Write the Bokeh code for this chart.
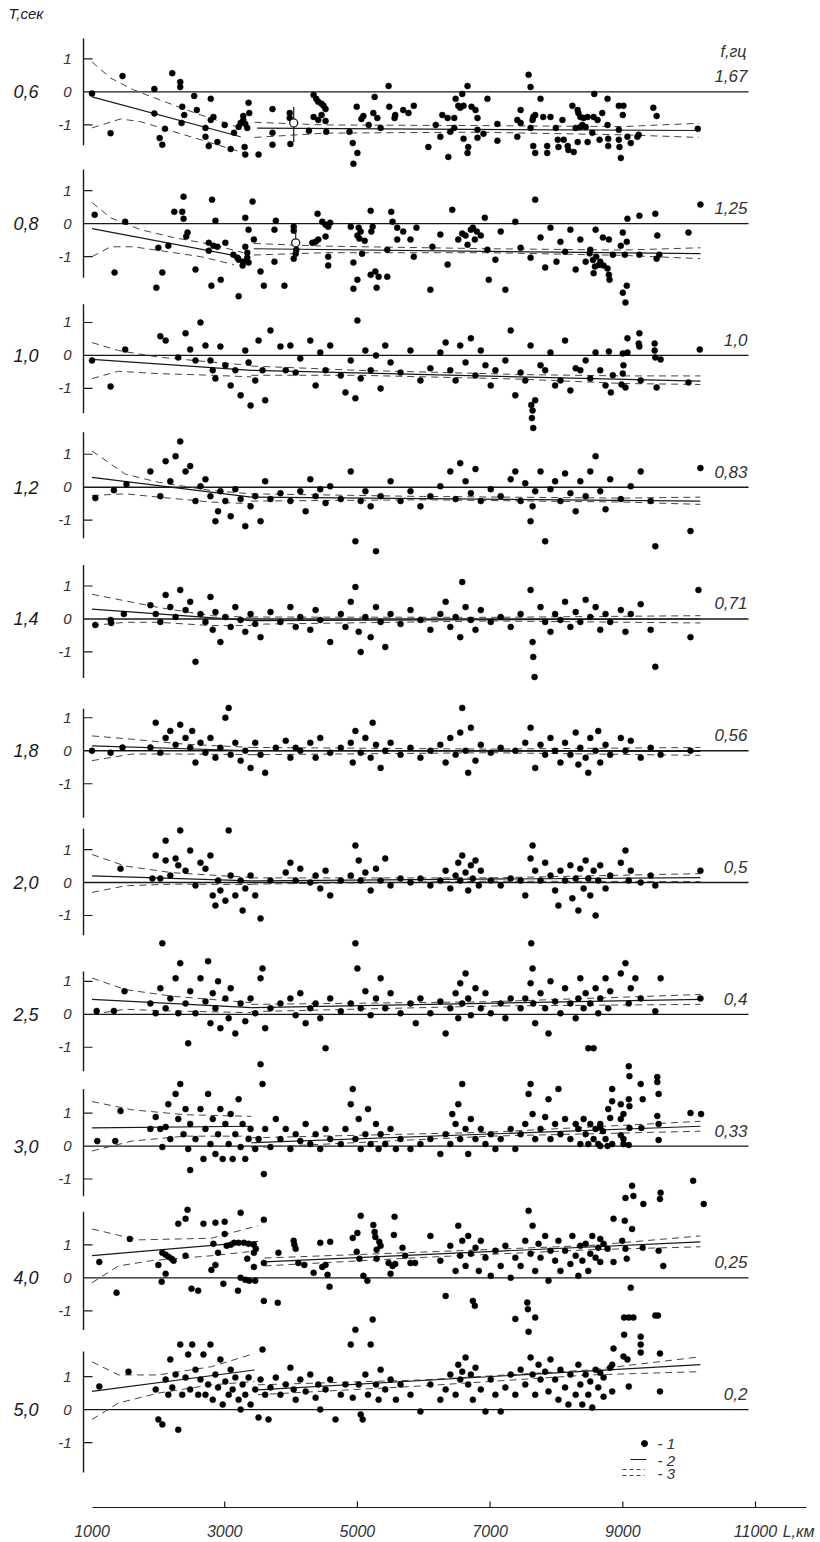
from bokeh.plotting import figure
from bokeh.models import Range1d, FixedTicker
from bokeh.embed import file_html
from bokeh.resources import INLINE

# ---------------- data ----------------
periods = ["0,6", "0,8", "1,0", "1,2", "1,4", "1,8", "2,0", "2,5", "3,0", "4,0", "5,0"]
freqs = ["1,67", "1,25", "1,0", "0,83", "0,71", "0,56", "0,5", "0,4", "0,33", "0,25", "0,2"]
axis_top = [1.62, 1.64, 1.55, 1.67, 1.64, 1.27, 1.64, 1.3, 1.73, 2.0, 1.76]
axis_bottom = [-1.62, -1.64, -1.75, -1.55, -1.79, -2.03, -1.6, -1.73, -1.52, -1.58, -1.91]
y_ticks = [1, 0, -1]
y_tick_labels = ["1", "0", "-1"]
dist_ticks = [1000, 3000, 5000, 7000, 9000, 11000]
dist_unit_pos = 11650
dist_unit = "L,км"

p1_pts = [(1000,-0.05),(1280,-1.25),(1460,0.48),(1940,0.09),(1940,-0.65),(2020,-1.4),(2060,-1.6),(2100,-1.12),(2210,0.57),(2330,0.3),
(2330,0.15),(2360,-0.45),(2390,-0.7),(2350,-0.94),(2540,-0.12),(2580,-0.55),(2710,-1.09),(2710,-1.36),(2760,-1.64),(2790,-0.21),
(2790,-0.85),(2830,-0.76),(2890,-1.52),(3000,-1.0),(3090,-1.73),(3140,-1.24),(3210,-1.06),(3240,-0.94),(3280,-0.85),(3310,-0.97),
(3280,-0.73),(3340,-1.09),(3360,-0.33),(3370,-0.64),(3300,-1.67),(3310,-1.9),(3510,-1.9),(3720,-0.52),(3720,-1.24),(3720,-1.6),
(3980,-0.79),(3980,-0.64),(3990,-1.58),(4270,-1.18),(4340,-0.09),(4380,-0.21),(4410,-0.3),(4460,-0.36),(4490,-0.42),(4520,-0.52),
(4460,-0.7),(4340,-0.76),(4410,-0.85),(4520,-0.88),(4530,-1.21),(4880,-1.21),(4930,-1.55),(4940,-2.18),(5000,-1.85),(4990,-0.45),
(5060,-0.82),(5090,-0.73),(5170,-1.0),(5240,-0.64),(5260,-0.15),(5300,-0.79),(5350,-1.09),(5470,0.18),(5480,-0.45),(5570,-0.7),
(5560,-0.79),(5690,-0.55),(5770,-0.64),(5850,-0.42),
(6070,-1.67),(6180,-1.0),(6250,-1.36),(6280,-0.7),(6360,-0.79),(6370,-1.97),(6400,-1.21),(6460,-0.79),(6480,-0.21),(6460,-1.09),
(6580,-0.06),(6520,-0.42),(6550,-0.48),(6600,-0.42),(6660,0.18),(6600,-1.42),(6670,-1.67),(6660,-1.85),(6720,-0.45),(6780,-0.55),
(6810,-0.79),(6810,-1.15),(6810,-1.39),(6900,-1.27),(6960,-0.21),(7110,-0.97),(7110,-1.48),
(7410,-0.85),(7410,-1.36),(7460,-0.55),(7460,-0.94),(7580,0.52),(7610,0.15),(7610,-1.09),(7640,-0.85),(7650,-0.76),(7650,-1.64),
(7680,-1.85),(7680,-0.70),(7760,-0.21),(7800,-0.76),(7860,-1.64),(7860,-1.85),(7910,-0.76),(7990,-1.09),(8020,-1.45),(8030,-1.67),
(8090,-0.85),(8110,-1.45),(8170,-1.64),(8180,-1.76),(8240,-0.42),(8260,-1.82),(8290,-1.09),(8320,-1.52),(8320,-0.55),(8330,-0.64),
(8360,-0.76),(8360,-1.06),(8390,-1.0),(8410,-0.79),(8440,-1.06),(8470,-0.76),(8470,-1.52),(8540,-1.24),(8560,-0.76),(8570,-0.06),
(8620,-0.85),(8650,-1.45),(8690,-0.64),(8770,-0.21),(8770,-1.0),(8780,-1.42),(8780,-1.64),(8940,-0.42),(8940,-1.15),(8940,-1.45),
(8950,-1.67),(8970,-2.0),(9000,-0.70),(9010,-0.42),(9070,-1.36),(9120,-1.55),(9220,-1.36),(9240,-1.3),(9460,-0.48),(9510,-0.73),
(10130,-1.12)]
p1_fit = [[(1000,-0.15),(3240,-1.36)], [(3490,-1.1),(10150,-1.17)]]
p1_hi = [[(1000,0.91),(1280,0.42),(1630,0.06),(2140,-0.33),(2640,-0.7),(3240,-1.09)],
         [(3450,-0.92),(4500,-1.0),(6800,-1.02),(9000,-1.05),(10150,-0.95)]]
p1_lo = [[(1000,-1.09),(1430,-0.82),(1730,-0.9),(2140,-1.15),(2640,-1.45),(3140,-1.76),(3310,-1.85)],
         [(3450,-1.38),(4500,-1.25),(6800,-1.22),(9000,-1.3),(10150,-1.38)]]

p2_pts = [(1040,0.27),(1340,-1.48),(1500,0.06),(1970,-1.94),(2000,-0.73),(2060,-1.48),(2150,-0.67),(2240,0.36),(2360,0.36),(2380,0.15),
(2380,0.82),(2420,-0.39),(2440,-0.27),(2560,-1.39),(2760,-0.82),(2800,-1.88),(2810,0.73),(2860,0.09),(2760,-0.58),(2830,-0.67),
(2890,-0.70),(2940,-1.7),(3010,-0.58),(3130,-0.94),(3190,-1.03),(3210,-1.09),(3270,-1.27),(3280,-1.15),(3310,-0.70),(3340,-0.88),
(3340,-1.03),(3360,-1.18),(3210,-2.2),(3310,0.18),(3360,-0.18),(3420,0.67),(3440,-0.48),(3540,-1.45),(3590,-1.88),(3770,0.09),
(3750,-0.18),(3750,-1.15),(3900,-1.88),(4040,-0.09),(4040,-0.21),(4080,-0.79),(4070,-0.91),(4040,-1.06),(4320,-0.58),(4370,-0.55),
(4410,-0.48),(4400,0.3),(4470,0.06),(4520,-0.03),(4590,0.03),(4560,-0.09),(4520,-0.39),(4560,-1.0),(4560,-1.27),(4900,-0.09),
(4940,-1.18),(4940,-1.97),(5020,-0.12),(5050,-0.24),(5000,-0.36),(5030,-0.45),(5000,-1.7),(5110,-0.52),(5070,-0.91),(5200,0.39),
(5210,-0.24),(5230,-0.09),(5200,-1.55),(5270,-1.45),(5320,-1.61),(5290,-1.94),(5450,-1.61),(5510,0.36),(5530,0.06),(5600,-0.12),
(5600,-0.48),(5690,-0.24),(5800,-0.48),(5890,-0.12),(5450,-0.79),(5850,-1.0),
(6130,-0.7),(6250,-0.33),(6360,-1.24),(6430,0.42),(6520,-0.48),(6580,-0.3),(6630,-0.36),(6660,-0.64),(6710,-0.18),(6740,-0.12),
(6770,-0.48),(6800,-0.24),(6860,-0.36),(6920,0.18),(6960,-0.79),(7080,-1.09),(7160,-0.24),(7230,-2.0),(6100,-2.0),(6980,-1.7),
(7380,0.06),(7460,-0.73),(7610,-1.03),(7680,0.73),(7760,-0.42),(7830,-1.33),(7910,-0.12),(8000,-1.15),(8060,-0.55),(8130,-0.85),
(8210,-0.18),(8290,-1.39),(8360,-0.48),(8440,-1.15),(8510,-0.79),(8590,-0.18),
(8500,-0.9),(8550,-1.1),(8580,-1.3),(8600,-1.0),(8640,-1.25),(8560,-1.5),
(10170,0.58),(9490,0.3),(9250,0.24),(9070,0.15),(8700,-0.42),(8790,-0.48),(9000,-0.27),(9060,-0.55),(9520,-0.36),(9990,-0.27),
(8970,-0.67),(8850,-0.94),(9030,-0.94),(9250,-0.94),(9550,-0.94),(9510,-1.06),(8660,-1.15),(8710,-1.27),(8770,-1.36),(8790,-1.55),
(8800,-1.70),(9060,-1.88),(9000,-2.09),(9040,-2.39)]
p2_fit = [[(1000,-0.15),(3240,-1.0)], [(3440,-0.76),(10170,-0.91)]]
p2_hi = [[(1000,0.64),(1280,0.18),(1730,-0.18),(2230,-0.42),(2830,-0.64),(3280,-0.88)],
         [(3440,-0.6),(4500,-0.68),(7000,-0.76),(9000,-0.8),(10170,-0.73)]]
p2_lo = [[(1000,-1.0),(1280,-0.7),(1620,-0.7),(2140,-0.85),(2640,-1.0),(3140,-1.24)],
         [(3440,-0.95),(4500,-0.88),(7000,-0.88),(9000,-0.96),(10170,-1.06)]]

p3_pts = [(1000,-0.15),(1500,0.18),(1280,-0.94),(2030,0.58),(2110,0.45),(2300,-0.06),(2410,0.67),(2480,0.18),(2560,-0.15),(2635,1.0),
(2710,0.3),(2785,-0.15),(2820,-0.45),(2860,-0.7),(2935,0.27),(3010,-0.3),(3090,-0.91),(3160,-0.45),(3240,-1.21),(3310,0.15),
(3360,-0.21),(3390,-1.52),(3460,-0.76),(3510,0.45),(3570,-0.45),(3610,-1.36),(3690,0.76),(3840,0.27),(3920,-0.45),(3990,0.3),
(4070,-0.52),(4140,-0.09),(4290,0.45),(4370,-0.91),(4440,0.09),(4520,-0.45),(4590,0.3),(4750,-0.61),(4820,-1.12),(4900,-0.15),
(4970,-1.3),(5000,1.06),(5050,-0.7),(5120,0.15),(5200,-0.45),(5280,0.0),(5350,-1.0),(5420,0.3),(5500,-0.21),(5650,-0.52),
(5800,0.15),(5950,-0.76),(6100,-0.39),(6250,0.09),(6330,0.39),(6400,-0.45),(6480,-0.76),(6550,0.3),(6630,-0.21),(6710,0.52),
(6780,-0.61),(6860,0.15),(6930,-0.3),(7010,-0.91),(7080,-0.45),(7230,-0.15),(7310,0.76),(7380,-1.21),(7460,-0.52),(7530,-0.76),
(7610,0.3),(7640,-1.67),(7680,-1.36),(7620,-1.5),(7630,-1.9),(7650,-2.2),(7760,-0.3),(7830,-0.45),(7910,0.09),(7980,-0.91),(8060,-0.76),(8130,0.45),(8210,-1.06),
(8290,-0.39),(8360,-0.45),(8440,-0.15),(8510,-0.7),(8590,0.09),(8660,-0.45),(8740,-0.91),
(9070,0.52),(9250,0.67),(9240,0.36),(9250,0.27),(9480,0.36),(9480,0.15),(9490,-0.06),(9570,-0.12),(8790,0.12),(9000,0.06),
(9070,0.09),(9010,-0.3),(9000,-0.55),(8850,-0.6),(8980,-0.88),(9040,-0.97),(9270,-0.76),(9510,-0.97),(9990,-0.82),(8820,-1.12),(10160,0.18)]
p3_fit = [[(1000,-0.12),(3400,-0.45)], [(3400,-0.45),(10170,-0.78)]]
p3_hi = [[(1000,0.39),(1400,0.15),(2000,-0.05),(2800,-0.2),(3400,-0.3)],
         [(3400,-0.32),(5000,-0.45),(7500,-0.58),(9000,-0.62),(10170,-0.62)]]
p3_lo = [[(1000,-0.7),(1400,-0.48),(2000,-0.55),(2800,-0.6),(3400,-0.65)],
         [(3400,-0.6),(5000,-0.6),(7500,-0.72),(9000,-0.85),(10170,-0.88)]]

p4_pts = [(1050,-0.33),(1330,-0.09),(1520,0.09),(1880,0.48),(2030,-0.27),(2110,0.79),(2180,0.18),(2260,0.94),(2330,1.39),(2410,0.48),
(2480,0.64),(2560,-0.42),(2635,0.03),(2710,0.24),(2785,-0.27),(2860,-1.03),(2900,-0.73),(2935,-0.12),(3010,-0.42),(3090,-0.88),
(3160,-0.06),(3240,-0.36),(3310,-1.18),(3390,-0.58),(3460,-0.27),(3540,-1.03),(3610,0.18),(3690,-0.36),(3840,-0.18),(3990,-0.42),
(4140,-0.12),(4220,-0.73),(4290,0.24),(4370,-0.27),(4440,-0.06),(4520,-0.48),(4590,0.03),(4750,-0.36),(4900,0.48),(4970,-1.64),
(5050,-0.42),(5120,-0.12),(5200,-0.58),(5280,-1.94),(5350,-0.27),(5500,0.18),(5650,-0.42),(5800,-0.12),(5950,-0.58),(6100,-0.27),
(6250,0.03),(6400,0.48),(6480,-0.36),(6550,0.73),(6630,0.18),(6710,-0.18),(6780,0.55),(6860,-0.42),(7010,-0.06),(7160,-0.27),
(7310,0.24),(7380,0.48),(7460,-0.42),(7530,0.12),(7610,-1.03),(7640,-0.58),(7680,-0.12),(7760,0.48),(7830,-1.64),(7910,-0.06),
(7980,0.18),(8060,-0.42),(8130,0.42),(8210,-0.18),(8290,-0.73),(8360,0.18),(8440,-0.27),(8510,0.48),(8590,0.94),(8660,-0.12),
(8740,-0.67),(8810,0.24),(8970,-0.36),(9120,0.03),(9270,0.48),(9420,-0.42),(9490,-1.79),(10020,-1.33),(10170,0.58)]
p4_fit = [[(1000,0.3),(3400,-0.3)], [(3400,-0.3),(10170,-0.42)]]
p4_hi = [[(1000,1.1),(1500,0.4),(2000,0.15),(2800,-0.1),(3400,-0.2)],
         [(3400,-0.2),(6000,-0.28),(9000,-0.33),(10170,-0.3)]]
p4_lo = [[(1000,-0.25),(1500,-0.2),(2000,-0.3),(2800,-0.45),(3400,-0.5)],
         [(3400,-0.42),(6000,-0.38),(9000,-0.45),(10170,-0.52)]]

p5_pts = [(1050,-0.18),(1290,-0.12),(1480,0.15),(1280,-0.03),(1880,0.42),(1960,0.15),(2030,-0.09),(2110,0.73),(2180,0.36),(2260,0.06),
(2330,0.88),(2410,0.27),(2480,0.52),(2560,-1.3),(2635,0.15),(2710,-0.09),(2785,0.67),(2820,-0.33),(2860,0.21),(2935,-0.7),
(3010,0.06),(3090,-0.24),(3160,0.36),(3240,-0.03),(3310,-0.39),(3390,0.15),(3460,-0.15),(3540,-0.55),(3690,0.21),(3840,-0.09),
(3990,0.36),(4070,-0.24),(4140,0.06),(4290,-0.33),(4370,0.27),(4440,-0.03),(4590,-0.7),(4750,0.15),(4820,-0.24),(4900,0.52),
(4970,0.97),(5020,-0.39),(5050,-1.0),(5120,0.06),(5200,-0.55),(5280,0.36),(5350,-0.09),(5420,-0.85),(5500,0.15),(5650,-0.15),
(5800,0.27),(5950,-0.03),(6100,-0.33),(6250,0.15),(6330,0.52),(6400,-0.24),(6480,0.06),(6550,-0.55),(6580,1.12),(6630,0.36),
(6710,-0.03),(6780,-0.33),(6860,0.27),(7010,-0.09),(7160,0.06),(7310,-0.24),(7460,0.15),(7610,0.88),(7640,-0.7),(7650,-1.15),
(7670,-1.76),(7760,0.36),(7830,-0.09),(7910,-0.39),(7980,0.15),(8060,-0.03),(8130,0.52),(8210,-0.24),(8290,0.21),(8360,-0.09),
(8440,0.58),(8510,0.06),(8590,0.36),(8660,-0.33),(8740,0.15),(8810,-0.09),(8970,0.27),(9040,-0.39),(9120,0.15),(9270,0.45),
(9420,-0.33),(9490,-1.45),(10020,-0.55),(10140,0.88)]
p5_fit = [[(1000,0.3),(3400,-0.05)], [(3400,-0.05),(10170,0.0)]]
p5_hi = [[(1000,0.75),(1500,0.55),(2000,0.35),(2800,0.1),(3400,0.05)],
         [(3400,0.06),(7000,0.05),(10170,0.1)]]
p5_lo = [[(1000,-0.2),(1500,-0.1),(2000,-0.1),(2800,-0.2),(3400,-0.2)],
         [(3400,-0.16),(7000,-0.06),(10170,-0.12)]]

p6_pts = [(1000,0.0),(1280,-0.06),(1460,0.1),(1880,0.1),(1960,0.85),(2030,-0.06),(2110,0.39),(2180,0.6),(2260,0.18),(2330,0.79),
(2410,0.39),(2480,0.09),(2510,0.6),(2560,-0.36),(2635,0.24),(2710,-0.06),(2785,0.39),(2860,-0.21),(2935,0.09),(3010,1.0),
(3060,1.3),(3090,-0.12),(3160,0.24),(3240,-0.3),(3310,0.0),(3390,-0.52),(3460,0.24),(3540,-0.12),(3610,-0.67),(3770,0.09),
(3920,0.3),(3990,-0.21),(4070,0.09),(4140,0.0),(4290,0.24),(4370,-0.21),(4440,0.39),(4590,-0.06),(4750,0.09),(4900,0.24),
(4930,-0.36),(4970,0.6),(5050,-0.06),(5120,0.39),(5200,-0.21),(5230,0.85),(5280,0.18),(5350,-0.52),(5420,0.0),(5500,0.24),
(5650,-0.12),(5800,0.09),(5950,-0.21),(6100,0.0),(6250,0.18),(6330,-0.36),(6400,0.39),(6480,-0.12),(6550,0.55),(6580,1.3),
(6630,0.0),(6670,-0.67),(6710,0.7),(6780,-0.3),(6860,0.18),(7010,-0.06),(7160,0.09),(7380,0.0),(7530,0.24),(7610,0.7),
(7680,-0.52),(7760,0.18),(7830,-0.12),(7910,0.39),(7980,0.0),(8060,-0.36),(8130,0.24),(8210,-0.12),(8290,0.55),(8330,-0.42),
(8360,0.09),(8440,-0.21),(8480,-0.67),(8510,0.39),(8590,0.0),(8630,0.6),(8660,-0.36),(8740,0.18),(8810,-0.12),(8970,0.39),
(9040,0.0),(9120,0.3),(9270,-0.21),(9420,0.09),(9570,-0.12),(10020,0.0)]
p6_fit = [[(1000,0.15),(3400,0.0)], [(3400,0.0),(10170,-0.02)]]
p6_hi = [[(1000,0.45),(1600,0.35),(2400,0.2),(3400,0.1)], [(3400,0.1),(7000,0.05),(10170,0.1)]]
p6_lo = [[(1000,-0.3),(1600,-0.1),(2400,-0.1),(3400,-0.12)], [(3400,-0.12),(7000,-0.06),(10170,-0.14)]]

p7_pts = [(1430,0.42),(1910,0.12),(1960,0.82),(2030,0.12),(2110,0.67),(2180,0.21),(2110,1.27),(2260,0.73),(2300,0.52),(2330,1.58),
(2410,0.36),(2480,0.97),(2560,-0.09),(2635,0.6),(2710,0.42),(2785,0.82),(2820,-0.39),(2860,-0.7),(2900,0.06),(2935,-0.24),
(3010,-0.55),(3060,1.58),(3090,0.21),(3160,-0.39),(3240,0.06),(3270,-0.85),(3310,-0.18),(3390,0.21),(3460,-0.39),(3540,-1.09),
(3690,0.06),(3920,0.3),(3990,0.6),(4070,0.06),(4140,0.42),(4290,0.0),(4370,0.21),(4440,-0.18),(4520,0.36),(4590,-0.39),
(4750,0.06),(4900,0.21),(4970,1.12),(5020,0.67),(5050,0.06),(5120,0.3),(5200,-0.24),(5280,0.42),(5350,0.06),(5420,0.73),
(5500,-0.09),(5650,0.12),(5800,0.0),(5950,0.12),(6100,-0.09),(6250,0.06),(6330,0.36),(6400,-0.18),(6480,0.21),(6520,0.6),
(6550,0.06),(6580,0.82),(6630,0.3),(6670,-0.24),(6710,0.52),(6740,0.12),(6780,0.67),(6830,-0.09),(6860,0.36),(7010,0.06),
(7160,-0.09),(7310,0.12),(7460,0.06),(7530,-0.39),(7610,0.73),(7640,1.12),(7680,0.36),(7760,0.06),(7830,0.6),(7910,0.21),
(7980,-0.24),(8030,-0.7),(8060,0.36),(8130,0.06),(8210,0.52),(8240,-0.48),(8290,0.12),(8330,-0.85),(8360,0.42),(8410,-0.18),
(8440,0.67),(8480,0.12),(8510,-0.39),(8560,0.36),(8590,-1.0),(8630,0.06),(8660,0.52),(8740,-0.18),(8810,0.21),(8970,0.6),
(9040,0.97),(9090,0.06),(9120,0.36),(9270,0.0),(9420,0.21),(9490,-0.09),(10170,0.36)]
p7_fit = [[(1000,0.2),(3400,0.05)], [(3400,0.05),(10170,0.15)]]
p7_hi = [[(1000,0.85),(1500,0.5),(2200,0.3),(3400,0.15)], [(3400,0.14),(7000,0.14),(10170,0.27)]]
p7_lo = [[(1000,-0.3),(1500,-0.1),(2200,-0.05),(3400,-0.06)], [(3400,-0.05),(7000,0.04),(10170,0.03)]]

p8_pts = [(1070,0.1),(1330,0.1),(1490,0.7),(1880,0.33),(1960,0.03),(2030,0.79),(2060,2.15),(2110,0.18),(2180,0.48),(2260,1.09),
(2300,0.03),(2330,1.55),(2410,0.33),(2450,-0.88),(2480,0.7),(2560,0.03),(2635,1.09),(2710,0.39),(2750,1.61),(2785,-0.27),
(2820,0.64),(2860,0.18),(2900,1.0),(2935,-0.42),(3010,0.48),(3060,-0.12),(3090,0.79),(3160,-0.58),(3240,0.33),(3310,-0.21),
(3390,0.48),(3460,0.03),(3540,1.09),(3570,1.39),(3610,-0.42),(3690,0.18),(3840,0.33),(3990,0.48),(4070,-0.03),(4140,0.64),
(4220,-0.27),(4290,0.18),(4370,0.33),(4440,-0.12),(4520,-1.03),(4590,0.48),(4750,0.09),(4900,0.33),(4970,2.15),(5000,1.39),
(5050,0.18),(5120,0.7),(5200,-0.03),(5280,0.48),(5350,1.09),(5420,0.18),(5500,0.64),(5650,0.03),(5800,0.33),(5880,-0.27),
(5950,0.48),(6100,0.03),(6250,0.39),(6330,-0.58),(6400,0.18),(6480,0.64),(6520,-0.12),(6550,0.94),(6580,0.33),(6630,1.24),
(6670,0.48),(6710,-0.03),(6780,0.79),(6860,0.18),(6930,0.64),(7010,0.03),(7160,0.33),(7230,-0.12),(7310,0.48),(7460,0.18),
(7530,0.48),(7610,0.94),(7620,2.15),(7640,1.39),(7650,0.33),(7680,-0.27),(7760,0.64),(7830,0.18),(7880,-0.58),(7910,1.0),
(7980,0.39),(8060,0.03),(8130,0.79),(8210,0.33),(8290,-0.12),(8330,0.48),(8360,1.09),(8410,0.18),(8440,0.64),(8480,-1.03),
(8510,0.33),(8560,-1.03),(8590,0.79),(8630,0.03),(8660,0.48),(8740,1.09),(8780,0.18),(8810,0.7),(8970,1.24),(9040,1.55),
(9090,0.33),(9120,0.79),(9190,1.09),(9270,0.48),(9490,0.09),(9570,1.09),(10170,0.48)]
p8_fit = [[(1000,0.45),(3400,0.2)], [(3400,0.2),(10170,0.45)]]
p8_hi = [[(1000,1.1),(1500,0.75),(2200,0.55),(3400,0.35)], [(3400,0.3),(7000,0.38),(10170,0.6)]]
p8_lo = [[(1000,0.0),(1500,0.15),(2200,0.1),(3400,0.05)], [(3400,0.08),(7000,0.25),(10170,0.3)]]

p9_pts = [(1080,0.15),(1350,0.15),(1430,1.06),(1880,0.52),(1960,0.88),(2030,0.52),(2060,-0.03),(2110,0.58),(2150,1.27),(2180,0.21),
(2260,1.58),(2300,0.82),(2330,1.88),(2380,0.36),(2410,1.12),(2450,-0.09),(2480,0.67),(2560,0.21),(2635,1.12),(2680,-0.39),
(2710,0.52),(2750,1.58),(2785,0.06),(2820,0.82),(2860,-0.24),(2900,0.36),(2935,1.12),(2970,-0.39),(3010,0.67),(3060,0.06),
(3090,0.97),(3120,-0.39),(3160,0.36),(3210,1.42),(3240,-0.03),(3270,0.67),(3310,-0.39),(3360,0.21),(3390,0.52),(3460,-0.09),
(3510,0.21),(3540,2.48),(3570,1.88),(3610,0.52),(3690,-0.03),(3770,0.82),(3840,0.21),(3920,0.52),(3990,-0.09),(4070,0.36),
(4140,0.15),(4220,0.67),(4290,0.06),(4370,0.36),(4440,-0.09),(4520,0.52),(4590,0.21),(4750,0.06),(4820,0.52),(4900,1.27),
(4930,1.73),(4970,0.21),(5020,0.82),(5050,-0.09),(5120,0.36),(5160,1.12),(5200,0.06),(5280,0.67),(5320,-0.09),(5350,0.36),
(5420,0.06),(5500,0.52),(5580,-0.09),(5650,0.21),(5800,-0.09),(5950,0.06),(6100,0.21),(6250,-0.24),(6330,0.36),(6400,0.06),
(6430,0.97),(6480,0.67),(6520,1.27),(6550,0.21),(6580,1.88),(6630,0.52),(6670,-0.24),(6710,0.82),(6780,0.21),(6860,0.52),
(6930,0.06),(7010,0.36),(7080,-0.09),(7160,0.21),(7310,0.52),(7380,-0.09),(7460,0.36),(7530,0.67),(7580,1.58),(7610,1.88),
(7640,0.97),(7680,0.21),(7760,0.52),(7830,0.88),(7880,1.42),(7910,0.21),(7980,0.67),(8030,1.73),(8060,0.36),(8130,0.82),
(8210,0.21),(8290,0.67),(8330,0.52),(8360,0.06),(8410,0.82),(8440,0.36),(8480,0.06),(8510,0.67),(8560,0.21),(8590,0.52),
(8630,0.06),(8660,0.67),(8740,0.21),(8780,1.12),(2480,-0.73),(3590,-0.85),
(9090,2.42),(9100,2.12),(9270,1.88),(8840,1.73),(9300,1.42),(9520,2.09),(9520,1.94),(9540,1.58),(8840,1.36),(8970,1.27),
(9090,1.42),(9100,1.21),(9010,0.97),(8970,0.82),(8810,0.85),(9520,0.91),(9540,0.67),(10020,1.0),(10180,0.97),(9100,0.55),
(9280,0.55),(8660,0.58),(8700,0.45),(8970,0.33),(9010,0.21),(8840,0.06),(9010,0.06),(9090,0.03),(9540,0.18),(8660,0.0),(8770,0.0)]
p9_fit = [[(1000,0.55),(3400,0.6)], [(3400,0.1),(10170,0.6)]]
p9_hi = [[(1000,1.35),(1600,1.1),(2400,0.95),(3400,0.9)], [(3400,0.25),(7000,0.42),(10170,0.75)]]
p9_lo = [[(1000,-0.15),(1600,0.15),(2400,0.3),(3400,0.3)], [(3400,-0.05),(7000,0.3),(10170,0.45)]]

p10_pts = [(1110,0.48),(1370,-0.45),(1570,1.18),(2000,0.39),(2050,-0.12),(2110,0.12),(2060,0.76),(2110,0.7),(2150,0.64),(2200,0.58),
(2230,0.52),(2410,0.67),(2300,1.64),(2410,1.79),(2440,2.06),(2500,-0.33),(2600,-0.39),(2680,1.64),(2860,1.67),(3000,1.7),
(2800,0.24),(2860,0.39),(2900,0.76),(2980,-0.18),(2830,1.03),(3000,1.33),(3030,0.97),(3090,1.0),(3140,1.06),(3210,1.06),
(3290,1.06),(3360,1.03),(3440,1.0),(3470,0.88),(3200,-0.39),(3240,1.97),(3240,0.0),(3310,-0.06),(3370,-0.09),(3460,-0.09),
(3340,0.58),(3440,0.76),(3440,0.33),(3590,1.76),(3590,0.45),(3590,-0.7),(3800,-0.76),(3810,0.76),(4040,1.12),(4050,1.0),
(4070,0.88),(4110,0.45),(4200,0.39),(4340,0.15),(4440,1.06),(4590,1.09),(4470,0.33),(4520,0.39),(4550,0.09),(4580,-0.27),
(4930,1.21),(5000,1.36),(5050,1.88),(4990,0.79),(5090,0.06),(5150,-0.09),(5240,1.6),(5260,1.39),(5270,1.24),(5330,1.09),
(5290,0.85),(5350,0.97),(5030,0.58),(5290,0.58),(5530,0.36),(5500,0.12),(5550,1.3),(5560,1.85),(5680,0.91),(5720,0.67),
(5800,0.45),(5870,0.45),(5470,0.45),(5570,0.42),
(6100,1.27),(6250,0.52),(6330,-0.55),(6400,0.97),(6480,0.21),(6520,1.58),(6550,0.67),(6580,1.12),(6630,0.36),(6670,1.27),
(6710,0.73),(6740,-0.7),(6770,-0.85),(6780,0.91),(6830,0.21),(6860,1.12),(6930,0.61),(7010,0.06),(7080,0.82),(7160,0.36),
(7230,0.97),(7310,0.0),(7380,0.61),(7460,0.36),(7530,1.12),(7580,2.03),(7610,0.73),(7640,1.58),(7680,0.21),(7730,1.03),
(7760,0.61),(7830,1.27),(7880,-0.09),(7910,0.82),(7980,0.52),(8030,1.12),(8060,0.21),(8130,0.82),(8210,0.42),(8240,1.27),
(8290,0.67),(8330,0.06),(8360,0.97),(8390,0.52),(8440,1.03),(8480,0.21),(8510,0.73),(8540,1.27),(8590,0.61),(8630,0.91),
(7560,-0.75),(7570,-0.95),
(9140,2.79),(9040,2.42),(9160,2.48),(9310,2.24),(9570,2.58),(9560,2.39),(10060,2.94),(10220,2.24),(8860,1.79),(9030,1.73),
(9140,1.48),(8660,1.18),(8710,1.03),(8770,0.88),(8990,1.12),(9040,0.88),(9300,0.91),(9540,0.82),(8860,0.48),(9060,0.58),
(9610,0.36),(8660,0.48),(9120,-0.3)]
p10_fit = [[(1000,0.67),(3500,1.1)], [(3600,0.48),(10170,1.09)]]
p10_hi = [[(1000,1.48),(1700,1.15),(2800,1.2),(3500,1.58)], [(3600,0.6),(6000,0.78),(8500,0.98),(10170,1.27)]]
p10_lo = [[(1000,-0.15),(1400,0.36),(1900,0.52),(2800,0.67),(3500,0.82)], [(3600,0.36),(6000,0.62),(8500,0.85),(10170,0.94)]]

p11_pts = [(1110,0.7),(1550,1.15),(1960,0.61),(2000,-0.3),(2060,-0.45),(2110,0.91),(2150,0.45),(2180,1.52),(2210,0.67),(2260,1.06),
(2300,-0.61),(2330,1.97),(2360,0.45),(2410,0.97),(2450,1.67),(2480,0.61),(2510,1.97),(2560,1.21),(2600,0.45),(2635,0.91),
(2680,1.67),(2710,0.45),(2750,0.76),(2785,1.97),(2820,0.3),(2860,1.06),(2900,0.67),(2935,1.52),(2970,0.15),(3010,0.85),
(3060,0.45),(3090,1.21),(3120,0.61),(3160,0.97),(3210,0.3),(3240,0.0),(3270,0.76),(3310,0.45),(3360,0.97),(3390,0.15),
(3460,0.61),(3510,-0.24),(3540,0.91),(3570,1.82),(3610,0.45),(3660,-0.3),(3690,0.67),(3770,0.97),(3840,0.45),(3920,0.76),
(3990,1.27),(4040,0.61),(4070,0.3),(4140,0.91),(4220,0.55),(4290,1.06),(4370,0.36),(4410,0.76),(4440,0.0),(4520,0.61),
(4590,0.91),(4670,-0.3),(4750,0.45),(4820,0.76),(4900,1.97),(4930,0.36),(4970,2.42),(5020,0.76),(5050,-0.15),(5080,-0.3),
(5120,1.06),(5160,0.45),(5200,1.97),(5230,2.73),(5280,0.76),(5320,0.3),(5350,1.21),(5420,0.61),(5500,0.91),(5580,0.3),
(5650,0.76),(5800,0.45),(5950,-0.06),(6100,0.76),(6250,0.3),(6330,0.61),(6400,1.06),(6480,0.45),(6520,1.36),(6550,0.91),
(6580,1.15),(6630,1.58),(6670,0.76),(6710,1.06),(6740,0.3),(6780,1.27),(6860,0.61),(6930,-0.06),(7010,0.91),(7080,0.45),
(7160,-0.06),(7230,0.67),(7310,1.06),(7380,0.45),(7460,1.21),(7530,0.76),(7580,2.36),(7610,1.58),(7640,1.06),(7680,0.45),
(7730,1.36),(7760,0.91),(7830,1.15),(7880,0.55),(7910,1.52),(7980,0.91),(8030,0.3),(8060,1.21),(8130,0.67),(8180,0.15),
(8210,1.06),(8290,0.45),(8330,1.36),(8360,0.76),(8390,0.15),(8440,1.06),(8480,0.45),(8510,0.85),(8540,0.06),(8590,1.21),
(8630,0.67),
(9020,2.27),(9270,2.21),(9270,1.97),(9270,1.73),(8860,1.85),(9560,1.7),(9010,1.61),(9070,1.52),(8840,1.36),(8810,1.27),
(8660,1.12),(8710,0.97),(8840,0.55),(9090,0.7),(9560,0.55),(8710,0.39),(9530,2.85),(9490,2.85),(9020,2.79),(9090,2.79),(9160,2.79),
(7380,2.75),(7680,2.79)]
p11_fit = [[(1000,0.55),(3450,1.2)], [(3500,0.6),(10170,1.36)]]
p11_hi = [[(1000,1.45),(1400,1.05),(2000,1.05),(2800,1.3),(3450,1.7)], [(3500,0.75),(6000,0.9),(8500,1.2),(10170,1.6)]]
p11_lo = [[(1000,-0.3),(1400,0.2),(2000,0.5),(2800,0.75),(3450,0.85)], [(3500,0.45),(6000,0.72),(8500,1.05),(10170,1.15)]]

# group means with error bars (panel index, km, mean, low, high)
means = [(0, 4040, -0.94, -1.52, -0.45), (1, 4070, -0.58, -1.0, -0.03)]

panels = [(p1_pts, p1_fit, p1_hi, p1_lo), (p2_pts, p2_fit, p2_hi, p2_lo), (p3_pts, p3_fit, p3_hi, p3_lo),
          (p4_pts, p4_fit, p4_hi, p4_lo), (p5_pts, p5_fit, p5_hi, p5_lo), (p6_pts, p6_fit, p6_hi, p6_lo),
          (p7_pts, p7_fit, p7_hi, p7_lo), (p8_pts, p8_fit, p8_hi, p8_lo), (p9_pts, p9_fit, p9_hi, p9_lo),
          (p10_pts, p10_fit, p10_hi, p10_lo), (p11_pts, p11_fit, p11_hi, p11_lo)]

# ---------------- layout (pixels of the page) ----------------
W, H = 820, 1542
AXIS_Y_PX = 1508          # bottom distance axis
KM0_PX = 91.5             # pixel column of 1000 km
PX_PER_KM = 0.06635
PX_PER_UNIT = 33.0
ZERO0_PX = 91.5           # zero line of first panel
STEP_PX = 131.85          # distance between panels


def km_at(px):
    return 1000 + (px - KM0_PX) / PX_PER_KM


def y_at(py):
    return (ZERO0_PX - py) / PX_PER_UNIT


FONT = "Liberation Sans"
INK = "#1a1a1a"
SOFT = "#333333"

p = figure(width=W, height=H, output_backend="svg", toolbar_location=None,
           x_range=Range1d(km_at(0), km_at(W)), y_range=Range1d(y_at(AXIS_Y_PX), y_at(0)),
           y_axis_location=None, min_border_left=0, min_border_right=0, min_border_top=0,
           min_border_bottom=H - AXIS_Y_PX, background_fill_color="white", border_fill_color="white")
p.grid.visible = False
p.outline_line_color = None

ax = p.xaxis[0]
ax.ticker = FixedTicker(ticks=dist_ticks + [dist_unit_pos])
ax.major_label_overrides = {dist_unit_pos: dist_unit}
ax.bounds = (1000, km_at(806))
ax.major_tick_line_color = None
ax.minor_tick_line_color = None
ax.axis_line_width = 1.2
ax.axis_line_color = INK
ax.major_label_standoff = 9
ax.major_label_text_font = FONT
ax.major_label_text_font_style = "italic"
ax.major_label_text_font_size = "16px"
ax.major_label_text_color = SOFT

# distance ticks pointing up from the axis line
base = y_at(AXIS_Y_PX)
p.segment(x0=dist_ticks[1:], x1=dist_ticks[1:], y0=[base] * 5, y1=[base + 6 / PX_PER_UNIT] * 5,
          line_color=INK, line_width=1.2)

AX_X = km_at(83)
zy, axy0, axy1 = [], [], []
tk_y, tk_lab_y, tk_lab = [], [], []
per_y, fr_y = [], []
sc_x, sc_y = [], []
fit_xs, fit_ys, band_xs, band_ys = [], [], [], []
for k, (pts, fit, hi, lo) in enumerate(panels):
    off = -k * STEP_PX / PX_PER_UNIT
    zy.append(off)
    axy0.append(off + axis_bottom[k])
    axy1.append(off + axis_top[k])
    for t, lab in zip(y_ticks, y_tick_labels):
        if t != 0:
            tk_y.append(off + t)
        tk_lab_y.append(off + t)
        tk_lab.append(lab)
    per_y.append(off)
    fr_y.append(off + 0.47)
    sc_x += [a for a, b in pts]
    sc_y += [b + off for a, b in pts]
    for seg in fit:
        fit_xs.append([a for a, b in seg]); fit_ys.append([b + off for a, b in seg])
    for seg in hi + lo:
        band_xs.append([a for a, b in seg]); band_ys.append([b + off for a, b in seg])

n = len(zy)
# zero lines
p.segment(x0=[AX_X] * n, x1=[km_at(748)] * n, y0=zy, y1=zy, line_color=INK, line_width=1.3)
# panel vertical axes with ticks
p.segment(x0=[AX_X] * n, x1=[AX_X] * n, y0=axy0, y1=axy1, line_color=INK, line_width=1.4)
p.segment(x0=[AX_X] * len(tk_y), x1=[km_at(92)] * len(tk_y), y0=tk_y, y1=tk_y, line_color=INK, line_width=1.2)
p.text(x=[km_at(71)] * len(tk_lab), y=tk_lab_y, text=tk_lab, text_align="right", text_baseline="middle",
       text_font={"value": FONT}, text_font_style="italic", text_font_size="15px", text_color=SOFT)
p.text(x=[km_at(38)] * n, y=per_y, text=periods, text_align="right", text_baseline="middle",
       text_font={"value": FONT}, text_font_style="italic", text_font_size="18px", text_color=INK)
p.text(x=[km_at(747)] * n, y=fr_y, text=freqs, text_align="right", text_baseline="middle",
       text_font={"value": FONT}, text_font_style="italic", text_font_size="17px", text_color=SOFT)
p.text(x=[km_at(8)], y=[y_at(13)], text=["T,сек"], text_align="left", text_baseline="middle",
       text_font={"value": FONT}, text_font_style="italic", text_font_size="15px", text_color=INK)
p.text(x=[km_at(746)], y=[y_at(51)], text=["f,гц"], text_align="right", text_baseline="middle",
       text_font={"value": FONT}, text_font_style="italic", text_font_size="16px", text_color=SOFT)

# regression lines and confidence bands
p.multi_line(xs=band_xs, ys=band_ys, line_color="#444444", line_width=1.0, line_dash="7 5")
p.multi_line(xs=fit_xs, ys=fit_ys, line_color=INK, line_width=1.2)

# observations
p.scatter(x=sc_x, y=sc_y, size=6, fill_color="black", line_color="black", line_width=0.5)

# group means
m_x = [m[1] for m in means]
m_y = [m[2] - m[0] * STEP_PX / PX_PER_UNIT for m in means]
m_lo = [m[3] - m[0] * STEP_PX / PX_PER_UNIT for m in means]
m_hi = [m[4] - m[0] * STEP_PX / PX_PER_UNIT for m in means]
p.segment(x0=m_x, x1=m_x, y0=m_lo, y1=m_hi, line_color=INK, line_width=1.2)
p.scatter(x=m_x, y=m_y, size=8, fill_color="white", line_color=INK, line_width=1.3)

# legend
p.scatter(x=[km_at(644)], y=[y_at(1444)], size=6, fill_color="black", line_color="black")
p.line(x=[km_at(630), km_at(646)], y=[y_at(1460)] * 2, line_color=INK, line_width=1.1)
p.line(x=[km_at(622), km_at(644)], y=[y_at(1470)] * 2, line_color="#444444", line_width=1.0, line_dash="4 3")
p.line(x=[km_at(622), km_at(644)], y=[y_at(1476)] * 2, line_color="#444444", line_width=1.0, line_dash="4 3")
p.text(x=[km_at(657)] * 3, y=[y_at(1444), y_at(1461), y_at(1474)], text=["- 1", "- 2", "- 3"],
       text_align="left", text_baseline="middle", text_font={"value": FONT}, text_font_style="italic",
       text_font_size="15px", text_color=SOFT)

open("out.html", "w").write(file_html(p, INLINE))
